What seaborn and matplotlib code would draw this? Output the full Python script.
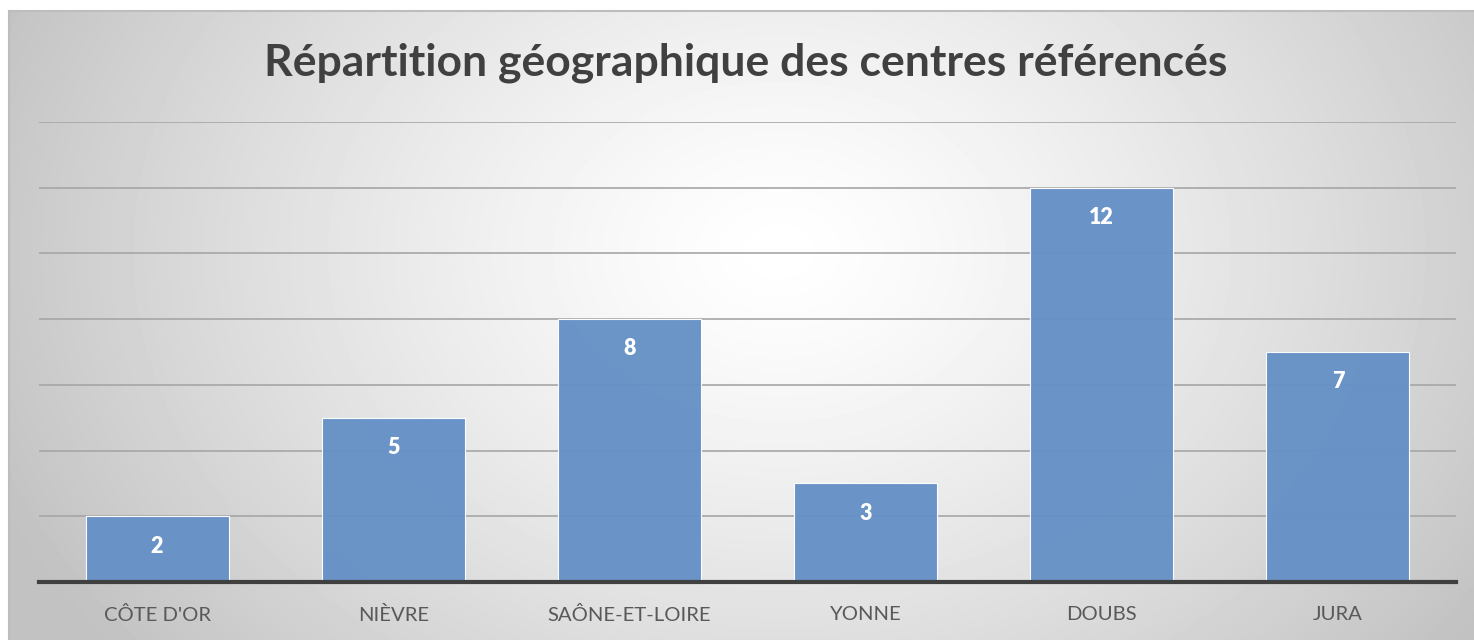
import numpy as np
import pandas as pd
import matplotlib
matplotlib.use('Agg')
import matplotlib.pyplot as plt
import seaborn as sns

# Data
departements = ["CÔTE D'OR", "NIÈVRE", "SAÔNE-ET-LOIRE", "YONNE", "DOUBS", "JURA"]
nb_centres = [2, 5, 8, 3, 12, 7]

df = pd.DataFrame({'departement': departements, 'centres': nb_centres})

sns.set_style('white')
plt.rcParams['font.family'] = ['Lato', 'DejaVu Sans']

W, H = 1474, 640
fig = plt.figure(figsize=(W / 100, H / 100), dpi=100)
fig.patch.set_facecolor('white')

# Radial gradient background (chart frame)
bg = fig.add_axes([9 / W, 0, 1 - 9 / W, 1 - 11 / H], zorder=0)
yy, xx = np.mgrid[0:629, 0:1465]
cx, cy = 770, 240
r = np.sqrt(((xx - cx) / 1.0) ** 2 + ((yy - cy) / 0.75) ** 2)
r = np.clip(r / 850, 0, 1)
shade = 1.0 - 0.24 * r ** 1.3
bg.imshow(shade, cmap='gray', vmin=0, vmax=1, aspect='auto',
          extent=[0, 1, 0, 1], origin='upper')
bg.set_xlim(0, 1)
bg.set_ylim(0, 1)
bg.set_xticks([])
bg.set_yticks([])
for side in ['top', 'left']:
    bg.spines[side].set_color('#BDBDBD')
    bg.spines[side].set_linewidth(1.5)
for side in ['right', 'bottom']:
    bg.spines[side].set_visible(False)

# Chart axes
ax = fig.add_axes([39 / W, 1 - 582 / H, (1456 - 39) / W, (582 - 122) / H], zorder=1)
ax.patch.set_alpha(0)
sns.barplot(data=df, x='departement', y='centres', color='#6691C6',
            width=0.605, saturation=1, alpha=0.97, edgecolor='white',
            linewidth=0.8, ax=ax, zorder=3)

ax.set_ylim(0, 14)
ax.set_xlim(-0.5, len(departements) - 0.5)
ax.set_yticks(np.arange(0, 15, 2))
ax.yaxis.grid(True, color='#A6A6A6', linewidth=1.2, zorder=1)
ax.set_axisbelow(True)
ax.tick_params(axis='y', left=False, labelleft=False)
ax.tick_params(axis='x', bottom=False, labelsize=14.6, labelcolor='#595959', pad=14)
ax.set_xlabel('')
ax.set_ylabel('')
for side in ['top', 'left', 'right']:
    ax.spines[side].set_visible(False)
ax.spines['bottom'].set_color('#404040')
ax.spines['bottom'].set_linewidth(3)
ax.spines['bottom'].set_zorder(5)

# Value labels inside bars
for cont in ax.containers:
    ax.bar_label(cont, labels=[str(v) for v in nb_centres], padding=-29,
                 color='white', fontsize=15.5, fontweight='heavy')

fig.text(746 / W, 1 - 63 / H, 'Répartition géographique des centres référencés',
         ha='center', va='center', fontsize=32, fontweight='bold', color='#404040')

fig.savefig('out.png', dpi=100)
